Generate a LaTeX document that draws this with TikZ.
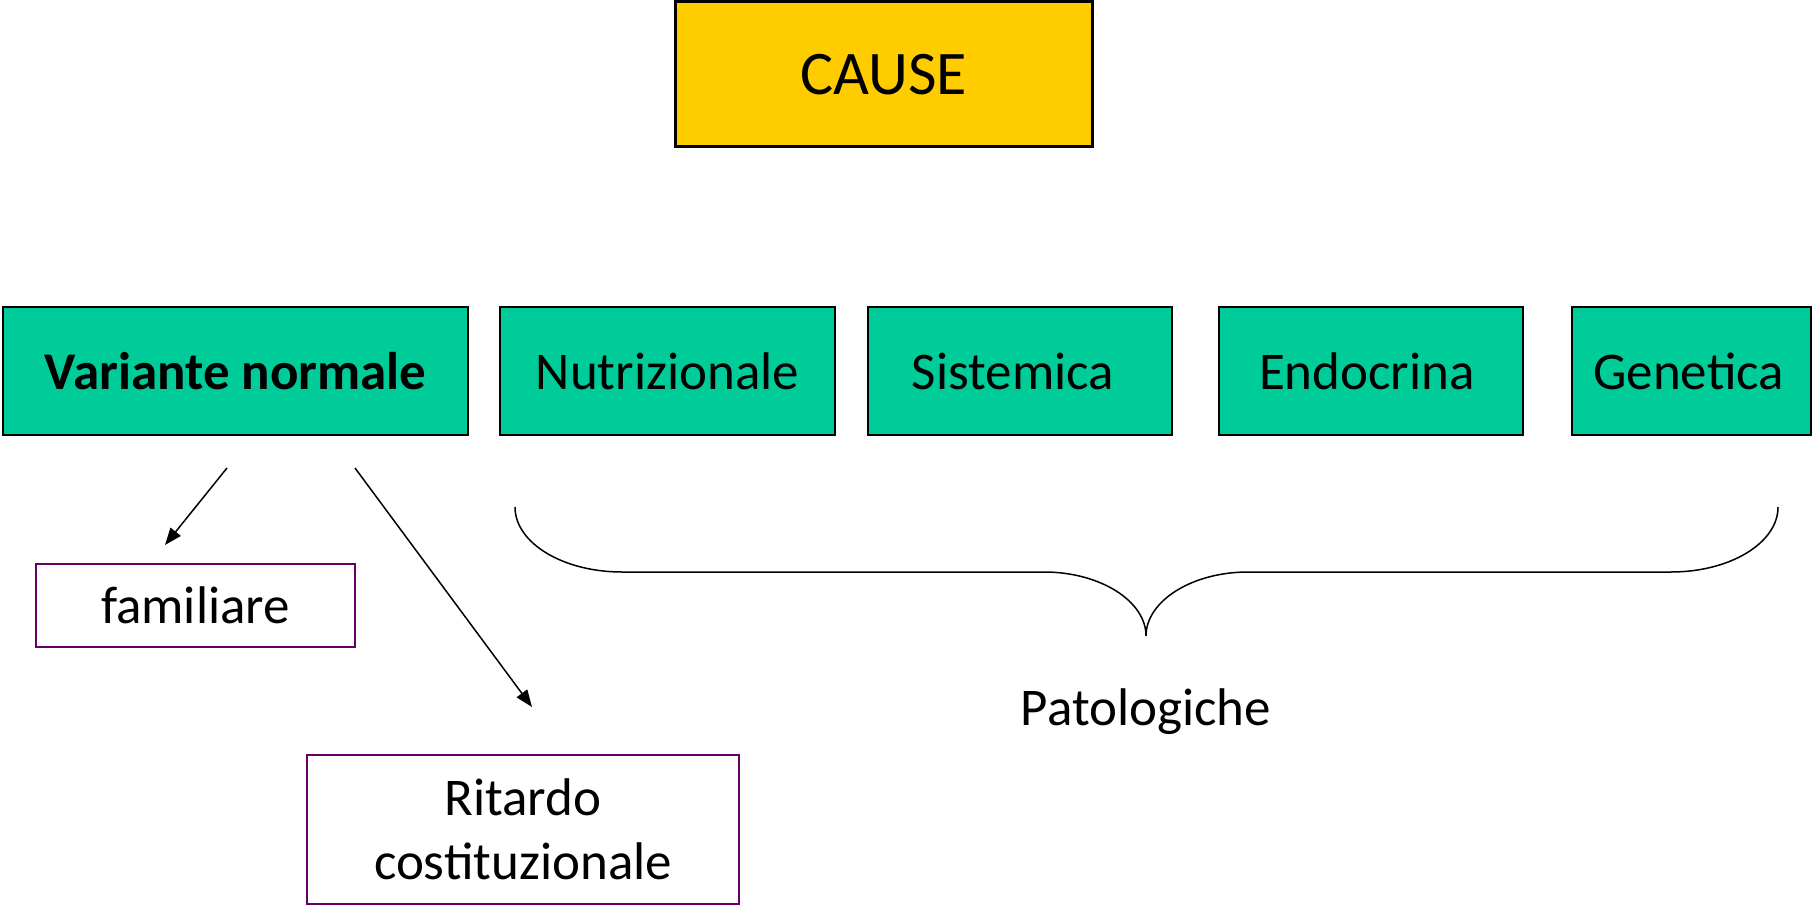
\documentclass[tikz,border=0pt]{standalone}
\usepackage{fontspec}
\setmainfont{Carlito}
\usetikzlibrary{arrows.meta}
\definecolor{causeyellow}{HTML}{FFCC00}
\definecolor{groupgreen}{HTML}{00CC99}
\definecolor{boxpurple}{HTML}{660066}
\begin{document}
\begin{tikzpicture}[x=1pt,y=-1pt,
  causebox/.style={draw=black,line width=3pt,fill=causeyellow,minimum width=417pt,minimum height=145pt,inner sep=0pt,font=\fontsize{62}{74}\selectfont},
  groupbox/.style={draw=black,line width=2pt,fill=groupgreen,minimum height=128pt,inner sep=0pt,font=\fontsize{53}{64}\selectfont},
  subbox/.style={draw=boxpurple,line width=2pt,inner sep=0pt,align=center,font=\fontsize{53}{64}\selectfont},
  link/.style={line width=1.5pt,-{Triangle[length=17pt,width=13pt]}},
  bracestyle/.style={line width=1.5pt},
  plain/.style={inner sep=0pt,font=\fontsize{53}{64}\selectfont}]
\useasboundingbox (0,0) rectangle (1819,909);
\node[causebox] (cause) at (883.5,74.5) {CAUSE};
\node[groupbox,minimum width=465pt,font=\fontsize{53}{64}\selectfont\bfseries] (var) at (235.5,371) {Variante normale};
\node[groupbox,minimum width=335pt] (nut) at (667.5,371) {Nutrizionale};
\node[groupbox,minimum width=304pt] (sis) at (1020,371) {Sistemica\hspace*{14pt}};
\node[groupbox,minimum width=304pt] (endo) at (1371,371) {Endocrina\hspace*{8pt}};
\node[groupbox,minimum width=239pt] (gen) at (1691.5,371) {Genetica\hspace*{6pt}};
\node[subbox,minimum width=319pt,minimum height=83pt] (fam) at (195.5,605.5) {familiare};
\node[subbox,minimum width=432pt,minimum height=149pt] (rit) at (523,829.5) {Ritardo\\costituzionale};
\coordinate (a1s) at (227,468);
\coordinate (a1e) at (165,545);
\coordinate (a2s) at (355,468);
\coordinate (a2e) at (532,707);
\draw[link] (a1s) -- (a1e);
\draw[link] (a2s) -- (a2e);
\coordinate (bl) at (515,507);
\coordinate (br) at (1778,507);
\coordinate (tip) at (1146,636);
\draw[bracestyle] (bl) .. controls (515,543) and (563,572) .. (622,572)
  -- (1044,572) .. controls (1100,572) and (1146,601) .. (tip)
  .. controls (1146,601) and (1192,572) .. (1248,572)
  -- (1671,572) .. controls (1730,572) and (1778,543) .. (br);
\node[plain] (pat) at (1146,712) {Patologiche};
\end{tikzpicture}
\end{document}
